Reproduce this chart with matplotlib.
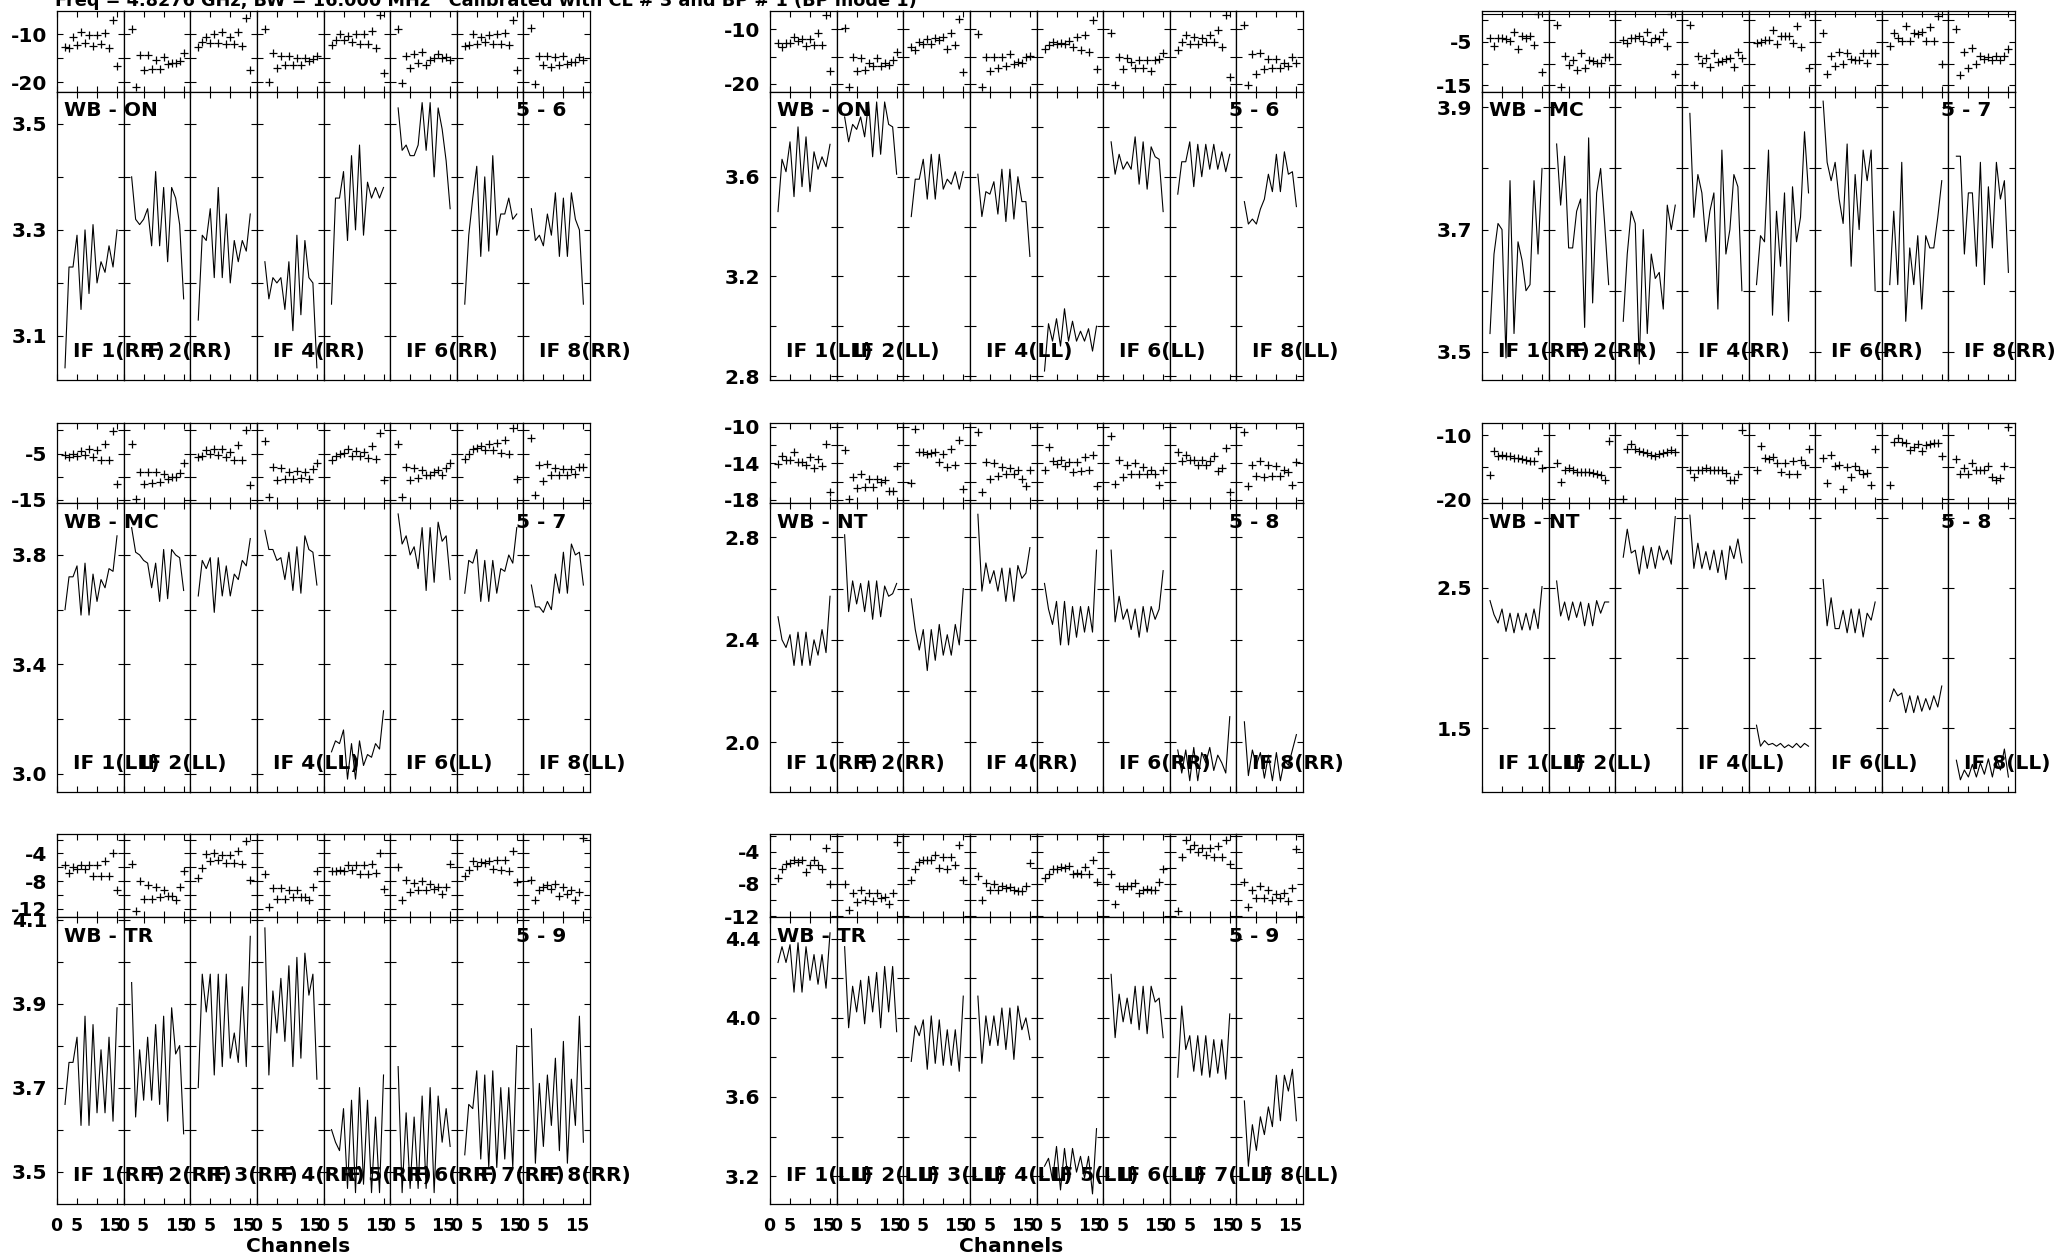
import matplotlib
matplotlib.use("Agg")
import matplotlib.pyplot as plt
from matplotlib.ticker import MultipleLocator, FixedLocator, FuncFormatter
from matplotlib.transforms import ScaledTranslation

plt.rcParams["font.family"] = ["DejaVu Sans"]
plt.rcParams["font.weight"] = "bold"

W, H = 2055, 1257
FS = 14.5

title = "Freq = 4.8276 GHz, BW = 16.000 MHz   Calibrated with CL # 3 and BP # 1 (BP mode 1)"
channels = list(range(2, 16))

# WB - ON, baseline 5 - 6
on_rr_amp = [
    [3.04, 3.23, 3.23, 3.29, 3.15, 3.30, 3.18, 3.31, 3.20, 3.24, 3.22, 3.27, 3.23, 3.30],
    [3.40, 3.32, 3.31, 3.32, 3.34, 3.27, 3.41, 3.27, 3.38, 3.24, 3.38, 3.36, 3.31, 3.17],
    [3.13, 3.29, 3.28, 3.34, 3.21, 3.38, 3.21, 3.33, 3.20, 3.28, 3.24, 3.28, 3.26, 3.33],
    [3.24, 3.17, 3.21, 3.20, 3.21, 3.15, 3.24, 3.11, 3.29, 3.14, 3.28, 3.21, 3.20, 3.04],
    [3.16, 3.36, 3.36, 3.41, 3.28, 3.44, 3.30, 3.46, 3.29, 3.39, 3.36, 3.38, 3.36, 3.38],
    [3.53, 3.45, 3.46, 3.44, 3.44, 3.46, 3.54, 3.45, 3.54, 3.40, 3.53, 3.49, 3.43, 3.34],
    [3.16, 3.29, 3.36, 3.42, 3.25, 3.40, 3.26, 3.44, 3.29, 3.33, 3.33, 3.36, 3.32, 3.33],
    [3.34, 3.28, 3.29, 3.27, 3.33, 3.29, 3.37, 3.25, 3.36, 3.25, 3.37, 3.32, 3.30, 3.16],
]
on_rr_phase = [
    [-12.6, -12.8, -10.5, -12.1, -9.4, -11.7, -10.2, -12.3, -10.1, -11.9, -9.6, -12.8, -6.9, -16.6],
    [-8.9, -21.0, -14.3, -17.5, -14.3, -17.2, -15.3, -17.2, -14.8, -16.2, -16.0, -16.0, -15.6, -13.9],
    [-12.6, -11.5, -10.6, -11.7, -9.8, -11.7, -9.4, -11.9, -10.5, -12.0, -9.4, -12.3, -6.6, -17.5],
    [-8.8, -20.0, -13.9, -17.0, -14.5, -16.3, -14.5, -16.3, -15.0, -16.3, -15.0, -15.5, -15.2, -14.5],
    [-12.1, -11.2, -10.0, -11.2, -10.3, -11.5, -9.8, -11.9, -10.0, -11.9, -9.3, -12.8, -6.0, -18.0],
    [-8.8, -20.1, -14.4, -17.0, -14.1, -16.0, -13.6, -16.3, -15.4, -14.9, -14.1, -14.9, -14.8, -15.4],
    [-12.3, -12.2, -10.0, -11.9, -10.5, -11.5, -10.1, -11.9, -9.8, -11.9, -9.6, -12.1, -6.9, -17.5],
    [-8.6, -20.3, -14.4, -16.4, -14.4, -16.7, -14.8, -16.4, -14.5, -16.1, -15.7, -15.7, -14.8, -15.3],
]
on_ll_amp = [
    [3.46, 3.67, 3.62, 3.74, 3.52, 3.80, 3.56, 3.76, 3.54, 3.70, 3.63, 3.68, 3.64, 3.73],
    [3.84, 3.74, 3.81, 3.79, 3.84, 3.76, 3.90, 3.68, 3.90, 3.69, 3.90, 3.81, 3.80, 3.61],
    [3.44, 3.59, 3.59, 3.67, 3.51, 3.69, 3.51, 3.69, 3.55, 3.59, 3.57, 3.62, 3.55, 3.62],
    [3.61, 3.44, 3.54, 3.53, 3.58, 3.45, 3.63, 3.42, 3.63, 3.43, 3.60, 3.50, 3.50, 3.28],
    [2.82, 3.01, 2.94, 3.03, 2.92, 3.07, 2.94, 3.02, 2.94, 2.98, 2.94, 2.99, 2.90, 3.00],
    [3.74, 3.61, 3.69, 3.63, 3.66, 3.63, 3.76, 3.57, 3.74, 3.55, 3.72, 3.68, 3.67, 3.46],
    [3.53, 3.66, 3.66, 3.74, 3.56, 3.73, 3.60, 3.73, 3.63, 3.73, 3.63, 3.70, 3.62, 3.69],
    [3.50, 3.41, 3.43, 3.41, 3.47, 3.51, 3.61, 3.54, 3.69, 3.54, 3.70, 3.61, 3.62, 3.48],
]
on_ll_phase = [
    [-12.4, -13.2, -12.4, -12.4, -11.3, -12.1, -11.8, -13.0, -11.8, -12.9, -10.7, -12.9, -7.4, -17.6],
    [-9.8, -20.6, -15.0, -17.6, -15.3, -17.4, -16.1, -16.8, -15.2, -16.7, -16.2, -16.6, -15.6, -14.1],
    [-13.2, -13.7, -12.3, -12.6, -11.8, -12.6, -11.6, -12.0, -11.3, -13.5, -10.7, -12.9, -8.0, -17.9],
    [-10.9, -20.6, -15.0, -17.6, -15.0, -17.1, -15.1, -16.8, -14.5, -16.3, -15.9, -16.1, -15.0, -14.9],
    [-13.5, -12.9, -12.3, -12.7, -12.4, -12.7, -12.1, -13.2, -11.3, -13.8, -11.0, -14.1, -8.2, -17.3],
    [-10.7, -20.2, -15.1, -17.3, -15.3, -15.9, -17.1, -15.7, -17.1, -15.7, -17.6, -15.7, -15.5, -14.3],
    [-13.8, -12.3, -11.0, -12.6, -11.3, -12.6, -11.6, -12.3, -11.0, -12.3, -10.1, -13.2, -7.4, -18.8],
    [-9.2, -20.2, -14.5, -18.2, -14.4, -17.3, -15.5, -17.1, -15.5, -17.1, -16.2, -16.7, -15.1, -16.2],
]

# WB - MC, baseline 5 - 7
mc_rr_amp = [
    [3.53, 3.66, 3.71, 3.70, 3.49, 3.78, 3.53, 3.68, 3.65, 3.60, 3.61, 3.78, 3.66, 3.80],
    [3.84, 3.74, 3.82, 3.67, 3.67, 3.73, 3.75, 3.54, 3.85, 3.58, 3.76, 3.80, 3.71, 3.61],
    [3.55, 3.66, 3.73, 3.71, 3.48, 3.70, 3.53, 3.66, 3.62, 3.63, 3.57, 3.74, 3.70, 3.74],
    [3.89, 3.72, 3.79, 3.76, 3.68, 3.73, 3.76, 3.57, 3.83, 3.66, 3.70, 3.79, 3.77, 3.60],
    [3.61, 3.69, 3.68, 3.83, 3.56, 3.73, 3.64, 3.76, 3.55, 3.77, 3.68, 3.72, 3.86, 3.76],
    [3.91, 3.81, 3.78, 3.81, 3.75, 3.71, 3.84, 3.64, 3.79, 3.70, 3.83, 3.78, 3.83, 3.60],
    [3.61, 3.73, 3.61, 3.81, 3.55, 3.67, 3.61, 3.69, 3.57, 3.69, 3.67, 3.67, 3.72, 3.78],
    [3.82, 3.82, 3.66, 3.76, 3.76, 3.64, 3.81, 3.61, 3.77, 3.67, 3.81, 3.75, 3.78, 3.63],
]
mc_rr_phase = [
    [-4.1, -6.0, -4.1, -4.1, -4.4, -4.8, -2.7, -6.7, -3.6, -4.1, -3.6, -5.8, 1.3, -11.9],
    [-1.3, -15.3, -8.3, -10.3, -9.1, -11.4, -7.7, -11.1, -9.3, -9.5, -9.8, -9.8, -8.6, -8.5],
    [-4.6, -5.2, -4.2, -4.1, -3.8, -4.8, -2.8, -5.0, -4.2, -4.4, -2.8, -6.0, 1.4, -12.4],
    [-1.3, -15.0, -8.3, -9.9, -8.7, -10.9, -7.7, -9.7, -9.5, -8.9, -8.7, -10.9, -7.3, -8.7],
    [-5.4, -5.0, -4.6, -4.6, -2.3, -5.6, -3.6, -3.8, -3.6, -5.4, -1.5, -6.2, 1.4, -11.0],
    [-3.0, -12.4, -8.3, -10.5, -7.3, -10.1, -7.7, -8.9, -9.1, -9.3, -7.7, -9.8, -7.5, -7.7],
    [-5.9, -3.0, -4.1, -4.8, -1.5, -4.8, -3.0, -3.3, -2.7, -4.8, -1.7, -4.8, 0.9, -10.1],
    [-2.0, -12.7, -7.3, -11.1, -6.4, -10.1, -8.3, -8.9, -8.5, -9.1, -8.3, -9.1, -8.3, -6.7],
]
mc_ll_amp = [
    [3.60, 3.72, 3.72, 3.76, 3.58, 3.77, 3.58, 3.73, 3.63, 3.71, 3.68, 3.75, 3.74, 3.87],
    [3.90, 3.81, 3.80, 3.78, 3.77, 3.68, 3.77, 3.63, 3.82, 3.64, 3.82, 3.80, 3.79, 3.67],
    [3.65, 3.78, 3.75, 3.79, 3.59, 3.79, 3.65, 3.76, 3.65, 3.73, 3.71, 3.78, 3.76, 3.86],
    [3.89, 3.82, 3.82, 3.78, 3.79, 3.71, 3.81, 3.67, 3.83, 3.66, 3.87, 3.82, 3.81, 3.69],
    [3.08, 3.12, 3.11, 3.16, 2.98, 3.11, 2.98, 3.12, 3.03, 3.07, 3.06, 3.11, 3.09, 3.23],
    [3.95, 3.84, 3.87, 3.80, 3.83, 3.75, 3.90, 3.67, 3.90, 3.70, 3.92, 3.85, 3.87, 3.71],
    [3.66, 3.78, 3.77, 3.82, 3.63, 3.78, 3.63, 3.78, 3.66, 3.75, 3.74, 3.80, 3.77, 3.90],
    [3.69, 3.61, 3.61, 3.59, 3.63, 3.60, 3.73, 3.66, 3.81, 3.66, 3.84, 3.80, 3.81, 3.69],
]
mc_ll_phase = [
    [-5.4, -5.7, -5.0, -5.6, -4.4, -5.4, -4.1, -5.7, -4.3, -6.4, -2.9, -6.4, -0.2, -11.6],
    [-2.9, -14.8, -8.9, -11.6, -9.1, -11.3, -9.1, -11.1, -9.4, -10.6, -10.0, -10.1, -9.3, -7.1],
    [-5.7, -5.6, -4.3, -5.0, -4.1, -5.4, -4.1, -5.7, -4.6, -6.4, -3.2, -6.4, 0.1, -11.8],
    [-2.4, -14.4, -8.0, -10.7, -8.2, -10.6, -8.9, -10.6, -8.7, -10.4, -8.9, -10.6, -8.4, -7.0],
    [-6.3, -5.6, -5.0, -4.9, -4.1, -5.6, -4.4, -5.6, -4.6, -5.9, -3.4, -6.1, -0.5, -10.7],
    [-2.9, -14.3, -8.0, -10.7, -8.2, -10.4, -8.6, -9.6, -9.6, -8.9, -8.6, -9.6, -8.2, -7.0],
    [-6.1, -5.1, -4.1, -3.9, -3.4, -4.3, -2.9, -4.3, -2.7, -4.9, -2.1, -5.2, 0.6, -10.5],
    [-1.6, -13.9, -7.5, -10.9, -7.3, -9.6, -8.2, -9.6, -8.4, -9.6, -8.4, -9.4, -7.9, -7.9],
]

# WB - NT, baseline 5 - 8
nt_rr_amp = [
    [2.49, 2.40, 2.37, 2.42, 2.30, 2.43, 2.30, 2.43, 2.30, 2.40, 2.34, 2.44, 2.35, 2.57],
    [2.81, 2.51, 2.63, 2.54, 2.62, 2.51, 2.63, 2.48, 2.63, 2.49, 2.61, 2.57, 2.58, 2.62],
    [2.56, 2.44, 2.36, 2.44, 2.28, 2.44, 2.32, 2.46, 2.34, 2.42, 2.34, 2.46, 2.38, 2.60],
    [2.89, 2.59, 2.70, 2.62, 2.67, 2.59, 2.68, 2.55, 2.68, 2.55, 2.69, 2.64, 2.66, 2.76],
    [2.62, 2.52, 2.46, 2.55, 2.38, 2.55, 2.38, 2.53, 2.41, 2.53, 2.43, 2.53, 2.43, 2.75],
    [2.75, 2.47, 2.57, 2.48, 2.52, 2.44, 2.52, 2.41, 2.53, 2.43, 2.53, 2.48, 2.52, 2.67],
    [1.97, 1.88, 1.97, 1.85, 1.98, 1.85, 1.96, 1.92, 1.98, 1.89, 1.95, 1.92, 1.88, 2.10],
    [2.08, 1.87, 1.97, 1.91, 1.96, 1.86, 1.95, 1.85, 1.96, 1.85, 1.93, 1.91, 1.97, 2.03],
]
nt_rr_phase = [
    [-14.1, -13.2, -13.6, -13.6, -12.7, -13.8, -13.8, -14.2, -13.3, -14.5, -13.5, -14.3, -11.9, -17.2],
    [-12.5, -17.9, -15.5, -16.7, -15.2, -16.6, -15.7, -16.6, -15.7, -16.1, -15.8, -17.0, -17.0, -14.3],
    [-16.2, -10.2, -12.7, -12.7, -13.0, -12.9, -12.7, -13.8, -13.0, -14.4, -12.4, -14.2, -11.4, -16.8],
    [-10.6, -17.1, -13.9, -15.7, -14.0, -15.4, -14.4, -15.2, -14.5, -15.2, -14.7, -15.7, -16.5, -14.7],
    [-14.7, -12.2, -13.7, -14.1, -13.6, -14.3, -13.9, -14.9, -13.9, -14.8, -13.3, -14.7, -13.1, -16.5],
    [-11.0, -16.3, -13.6, -15.5, -14.2, -15.2, -14.0, -15.2, -14.4, -15.2, -14.7, -15.2, -16.4, -14.7],
    [-12.8, -13.7, -13.1, -13.6, -13.6, -14.2, -13.6, -14.2, -13.7, -13.2, -14.8, -14.5, -12.3, -17.1],
    [-10.5, -16.5, -14.2, -15.4, -13.7, -15.5, -14.2, -15.4, -14.3, -15.4, -14.7, -15.0, -16.4, -13.8],
]
nt_ll_amp = [
    [2.41, 2.31, 2.25, 2.35, 2.19, 2.32, 2.18, 2.32, 2.20, 2.32, 2.20, 2.35, 2.21, 2.51],
    [2.55, 2.30, 2.40, 2.27, 2.40, 2.29, 2.40, 2.23, 2.39, 2.23, 2.41, 2.32, 2.40, 2.40],
    [2.72, 2.92, 2.75, 2.77, 2.60, 2.80, 2.64, 2.79, 2.64, 2.80, 2.70, 2.77, 2.67, 3.01],
    [3.02, 2.64, 2.82, 2.64, 2.76, 2.63, 2.77, 2.61, 2.77, 2.56, 2.80, 2.71, 2.85, 2.68],
    [1.52, 1.37, 1.41, 1.38, 1.39, 1.37, 1.39, 1.36, 1.38, 1.36, 1.39, 1.36, 1.39, 1.37],
    [2.56, 2.23, 2.43, 2.21, 2.21, 2.34, 2.18, 2.35, 2.18, 2.35, 2.15, 2.32, 2.27, 2.40],
    [1.69, 1.78, 1.73, 1.75, 1.61, 1.73, 1.61, 1.73, 1.62, 1.71, 1.63, 1.73, 1.65, 1.80],
    [1.27, 1.13, 1.20, 1.15, 1.24, 1.15, 1.25, 1.17, 1.28, 1.15, 1.29, 1.20, 1.35, 1.15],
]
nt_ll_phase = [
    [-16.2, -12.4, -13.3, -13.1, -13.3, -13.3, -13.5, -13.6, -13.8, -13.9, -14.0, -14.1, -12.4, -15.2],
    [-14.4, -17.3, -15.4, -15.1, -15.4, -15.7, -15.7, -15.7, -15.7, -15.9, -16.0, -16.2, -17.0, -10.9],
    [-20.0, -12.1, -11.4, -12.2, -12.4, -12.6, -12.8, -13.1, -13.3, -13.0, -12.8, -12.6, -12.3, -12.7],
    [-15.4, -16.5, -15.4, -15.4, -15.2, -15.4, -15.5, -15.5, -15.4, -15.9, -17.0, -17.0, -16.1, -9.2],
    [-15.5, -11.7, -13.5, -13.8, -13.4, -14.3, -15.7, -14.4, -16.0, -14.1, -16.1, -13.9, -14.7, -12.1],
    [-13.6, -17.4, -13.1, -14.8, -14.7, -18.4, -15.0, -16.6, -14.8, -15.5, -16.1, -15.9, -17.8, -12.2],
    [-17.8, -11.0, -10.4, -11.0, -11.2, -12.3, -11.8, -11.4, -12.4, -11.6, -11.4, -11.3, -11.2, -13.3],
    [-13.8, -16.1, -15.2, -16.1, -14.4, -15.5, -15.5, -15.5, -14.8, -16.5, -17.0, -16.7, -14.8, -8.8],
]

# WB - TR, baseline 5 - 9
tr_rr_amp = [
    [3.66, 3.76, 3.76, 3.82, 3.61, 3.87, 3.61, 3.85, 3.64, 3.79, 3.64, 3.82, 3.62, 3.89],
    [3.95, 3.63, 3.79, 3.67, 3.82, 3.67, 3.85, 3.66, 3.87, 3.62, 3.89, 3.78, 3.80, 3.59],
    [3.70, 3.97, 3.88, 3.97, 3.73, 3.97, 3.75, 3.97, 3.77, 3.83, 3.76, 3.94, 3.75, 4.06],
    [4.08, 3.73, 3.93, 3.83, 3.96, 3.81, 3.99, 3.75, 4.01, 3.77, 4.02, 3.92, 3.97, 3.72],
    [3.60, 3.57, 3.55, 3.65, 3.46, 3.67, 3.45, 3.70, 3.47, 3.67, 3.45, 3.63, 3.45, 3.73],
    [3.75, 3.45, 3.64, 3.46, 3.63, 3.46, 3.68, 3.46, 3.70, 3.45, 3.68, 3.57, 3.65, 3.56],
    [3.54, 3.66, 3.65, 3.74, 3.53, 3.73, 3.51, 3.74, 3.51, 3.70, 3.53, 3.70, 3.51, 3.80],
    [3.84, 3.52, 3.71, 3.56, 3.73, 3.61, 3.77, 3.55, 3.81, 3.52, 3.72, 3.61, 3.87, 3.57],
]
tr_rr_phase = [
    [-5.7, -6.9, -5.9, -6.2, -5.7, -6.2, -5.7, -7.3, -5.7, -7.2, -5.1, -7.3, -3.9, -9.3],
    [-5.6, -12.3, -8.0, -10.6, -8.6, -10.6, -8.9, -10.3, -9.3, -10.1, -10.1, -10.7, -8.8, -6.5],
    [-7.5, -6.1, -4.1, -5.1, -3.9, -4.9, -4.2, -5.4, -4.2, -5.4, -3.6, -5.5, -2.2, -7.9],
    [-7.0, -11.8, -9.0, -10.6, -9.0, -10.6, -9.3, -10.3, -9.3, -10.3, -10.3, -10.7, -8.9, -6.5],
    [-6.5, -6.5, -6.4, -6.5, -5.7, -6.4, -5.7, -7.0, -5.7, -7.0, -5.5, -6.8, -4.0, -9.2],
    [-5.9, -10.8, -7.8, -9.6, -8.3, -9.3, -8.0, -9.3, -8.5, -9.1, -8.9, -9.9, -8.8, -5.6],
    [-7.2, -6.4, -5.1, -5.8, -5.2, -5.4, -5.1, -6.2, -5.0, -6.4, -4.9, -6.5, -3.7, -8.1],
    [-7.9, -10.8, -9.3, -8.9, -8.6, -9.2, -8.4, -10.1, -8.9, -9.9, -9.3, -10.8, -9.6, -1.8],
]
tr_ll_amp = [
    [4.28, 4.36, 4.28, 4.37, 4.13, 4.38, 4.13, 4.36, 4.19, 4.32, 4.17, 4.32, 4.15, 4.43],
    [4.36, 3.95, 4.16, 4.03, 4.19, 3.97, 4.21, 4.03, 4.23, 3.95, 4.26, 4.03, 4.26, 3.93],
    [3.78, 3.96, 3.91, 3.99, 3.74, 4.01, 3.77, 3.99, 3.76, 3.94, 3.76, 3.94, 3.73, 4.11],
    [4.11, 3.77, 4.01, 3.86, 4.01, 3.86, 4.05, 3.84, 4.05, 3.79, 4.06, 3.94, 4.00, 3.89],
    [3.25, 3.29, 3.18, 3.35, 3.13, 3.34, 3.17, 3.34, 3.22, 3.30, 3.19, 3.30, 3.11, 3.44],
    [4.22, 3.90, 4.12, 3.98, 4.10, 3.97, 4.16, 3.94, 4.16, 3.92, 4.16, 4.08, 4.10, 3.90],
    [3.70, 4.06, 3.84, 3.91, 3.73, 3.91, 3.71, 3.91, 3.70, 3.89, 3.72, 3.89, 3.69, 4.02],
    [3.58, 3.25, 3.46, 3.33, 3.50, 3.41, 3.55, 3.45, 3.71, 3.48, 3.71, 3.63, 3.74, 3.48],
]
tr_ll_phase = [
    [-7.3, -6.1, -5.5, -5.4, -5.0, -5.3, -5.0, -6.5, -5.6, -5.0, -5.7, -6.2, -3.5, -8.0],
    [-8.0, -11.2, -9.1, -10.3, -8.8, -10.0, -9.1, -10.1, -9.1, -9.8, -9.6, -10.5, -9.1, -2.8],
    [-7.5, -6.1, -5.3, -5.0, -5.0, -5.0, -4.4, -6.0, -4.6, -6.1, -4.6, -5.7, -3.2, -7.5],
    [-7.0, -10.0, -7.9, -8.8, -8.0, -8.8, -8.2, -8.5, -8.4, -8.8, -8.9, -8.9, -8.2, -5.4],
    [-7.2, -6.8, -6.2, -6.1, -5.9, -6.0, -5.8, -6.8, -6.7, -6.8, -5.9, -6.8, -5.0, -7.7],
    [-6.8, -10.5, -8.3, -8.6, -8.2, -8.2, -7.9, -9.1, -8.8, -8.6, -8.8, -8.8, -7.7, -6.1],
    [-11.4, -4.7, -2.5, -3.7, -3.2, -4.0, -3.5, -4.4, -3.5, -4.7, -3.3, -4.7, -2.6, -5.5],
    [-7.7, -10.8, -8.8, -9.8, -8.2, -9.8, -8.8, -10.0, -9.2, -9.7, -9.1, -10.1, -8.5, -3.6],
]

# page layout in pixels
col_left = [57, 770, 1482]
col_width = 533
row_top = [11, 423, 834]
row_mid = [92, 503, 917]
row_bot = [380, 792, 1204]

odd_if = [0, 1, 3, 5, 7]
all_if = list(range(8))

# (col, row, station, baseline, pol, amp, phase,
#  amp ylim, amp tick step, amp labels, phase ylim, phase tick step, phase labels, IF labels)
panels = [
    (0, 0, "WB - ON", "5 - 6", "RR", on_rr_amp, on_rr_phase,
     (3.017, 3.56), 0.1, [3.1, 3.3, 3.5], (-22.0, -5.1), 5, [-10, -20], odd_if),
    (1, 0, "WB - ON", "5 - 6", "LL", on_ll_amp, on_ll_phase,
     (2.784, 3.94), 0.2, [2.8, 3.2, 3.6], (-21.5, -6.6), 5, [-10, -20], odd_if),
    (2, 0, "WB - MC", "5 - 7", "RR", mc_rr_amp, mc_rr_phase,
     (3.454, 3.925), 0.1, [3.5, 3.7, 3.9], (-16.5, 2.0), 5, [-5, -15], odd_if),
    (0, 1, "WB - MC", "5 - 7", "LL", mc_ll_amp, mc_ll_phase,
     (2.933, 3.99), 0.2, [3.0, 3.4, 3.8], (-15.7, 1.6), 5, [-5, -15], odd_if),
    (1, 1, "WB - NT", "5 - 8", "RR", nt_rr_amp, nt_rr_phase,
     (1.806, 2.934), 0.2, [2.0, 2.4, 2.8], (-18.36, -9.56), 2, [-10, -14, -18], odd_if),
    (2, 1, "WB - NT", "5 - 8", "LL", nt_ll_amp, nt_ll_phase,
     (1.043, 3.107), 0.5, [1.5, 2.5], (-20.6, -8.1), 5, [-10, -20], odd_if),
    (0, 2, "WB - TR", "5 - 9", "RR", tr_rr_amp, tr_rr_phase,
     (3.423, 4.106), 0.1, [3.5, 3.7, 3.9, 4.1], (-13.2, -1.2), 2, [-4, -8, -12], all_if),
    (1, 2, "WB - TR", "5 - 9", "LL", tr_ll_amp, tr_ll_phase,
     (3.059, 4.51), 0.2, [3.2, 3.6, 4.0, 4.4], (-12.1, -1.8), 2, [-4, -8, -12], all_if),
]

fig = plt.figure(figsize=(W / 100, H / 100), dpi=100)
xshift = ScaledTranslation(5.5 / 100, 0, fig.dpi_scale_trans)


def px_axes(x0, y0, x1, y1):
    return fig.add_axes([x0 / W, 1 - y1 / H, (x1 - x0) / W, (y1 - y0) / H])


def label_fmt(labels, fmt):
    def f(v, pos):
        for lab in labels:
            if abs(v - lab) < 1e-6:
                return fmt % lab
        return ""
    return FuncFormatter(f)


def style(ax, step, labels, fmt, first, xlabels):
    ax.set_xlim(0, 16.65)
    ax.xaxis.set_major_locator(FixedLocator([0, 5, 10, 15]))
    ax.yaxis.set_major_locator(MultipleLocator(step))
    ax.yaxis.set_major_formatter(label_fmt(labels, fmt))
    ax.xaxis.set_major_formatter(
        FuncFormatter(lambda v, p: {0: "0", 5: "5", 15: "15"}.get(int(round(v)), "")))
    ax.tick_params(direction="in", top=True, right=True, length=4.3, width=0.8,
                   labelsize=FS, pad=7, labelleft=first, labelbottom=xlabels)
    ax.tick_params(axis="x", pad=9.5, labelsize=12.5)
    if xlabels:
        for lab in ax.xaxis.get_majorticklabels():
            lab.set_horizontalalignment("right")
            lab.set_transform(lab.get_transform() + xshift)
    for s in ax.spines.values():
        s.set_linewidth(0.9)


sub_w = col_width / 8
for (c, r, station, base, pol, amp, phase, alim, astep, alab,
     plim, pstep, plab, shown) in panels:
    x0 = col_left[c]
    for k in range(8):
        left = x0 + k * sub_w
        right = left + sub_w

        axp = px_axes(left, row_top[r], right, row_mid[r])
        axp.plot(channels, phase[k], "+", color="k", ms=6, mew=0.9)
        axp.set_ylim(*plim)
        style(axp, pstep, plab, "%d", k == 0, False)
        if (c, r) == (2, 0):
            # doubled frame line along the top of this strip
            axp.plot([0, 1], [0.965, 0.965], color="k", lw=0.8,
                     transform=axp.transAxes)

        axa = px_axes(left, row_mid[r], right, row_bot[r])
        axa.plot(channels, amp[k], "-", color="k", lw=0.8)
        axa.set_ylim(*alim)
        style(axa, astep, alab, "%.1f", k == 0, r == 2)

        if k in shown:
            fig.text((left + 16) / W, 1 - (row_bot[r] - 29) / H,
                     "IF %d(%s)" % (k + 1, pol), fontsize=FS, fontweight="bold",
                     ha="left", va="center")

    fig.text((x0 + 7) / W, 1 - (row_mid[r] + 19) / H, station,
             fontsize=FS, fontweight="bold", ha="left", va="center")
    fig.text((x0 + 459) / W, 1 - (row_mid[r] + 19) / H, base,
             fontsize=FS, fontweight="bold", ha="left", va="center")
    if r == 2:
        fig.text((x0 + col_width / 2 - 25) / W, 1 - 1246 / H, "Channels",
                 fontsize=FS, fontweight="bold", ha="center", va="center")

fig.text(55 / W, 1 - 6.5 / H, title, fontsize=12.8, fontweight="bold",
         ha="left", va="baseline")

fig.savefig("out.png", dpi=100)
